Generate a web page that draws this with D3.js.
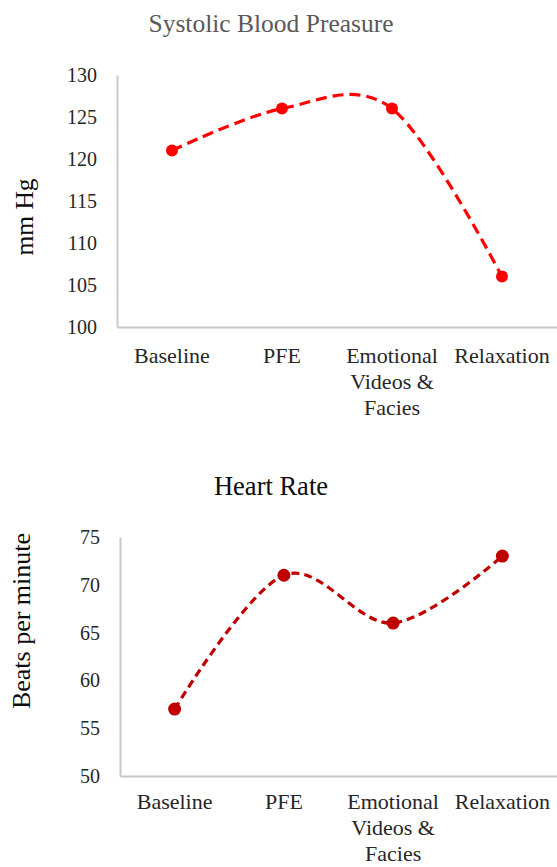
<!DOCTYPE html>
<html><head><meta charset="utf-8">
<script src="https://cdn.jsdelivr.net/npm/d3@7"></script>
<style>body{margin:0;background:#fff}svg{display:block}</style>
</head><body><svg id="c" width="557" height="867"></svg>
<script>
const categories = ["Baseline", "PFE", "Emotional\nVideos &\nFacies", "Relaxation"];
const systolicValues = [121, 126, 126, 106];
const systolicTicks = [100, 105, 110, 115, 120, 125, 130];
const heartRateValues = [57, 71, 66, 73];
const heartRateTicks = [50, 55, 60, 65, 70, 75];

const FONT = "'Liberation Serif', 'Times New Roman', serif";
const svg = d3.select("#c");

function panel(cfg) {
  const g = svg.append("g").style("font-family", FONT);
  const x = d3.scaleBand().domain(categories).range([cfg.left, cfg.right]);
  const y = d3.scaleLinear().domain([cfg.ticks[0], cfg.ticks[cfg.ticks.length - 1]]).range([cfg.bottom, cfg.top]);

  g.append("text").attr("x", cfg.titleX).attr("y", cfg.titleY).attr("text-anchor", "middle")
    .style("font-family", FONT).attr("font-size", cfg.titleSize).attr("fill", cfg.titleColor).text(cfg.title);

  const ya = g.append("g").attr("transform", `translate(${cfg.left},0)`)
    .call(d3.axisLeft(y).tickValues(cfg.ticks).tickSize(0).tickPadding(cfg.tickPad));
  ya.style("font-family", FONT);
  ya.select(".domain").attr("stroke", "#c8c8c8").attr("stroke-width", 2);
  ya.selectAll("text").attr("font-size", 20).attr("fill", "#262626").style("font-family", FONT);

  const xa = g.append("g").attr("transform", `translate(0,${cfg.bottom})`)
    .call(d3.axisBottom(x).tickSize(0).tickFormat(""));
  xa.select(".domain").attr("stroke", "#c8c8c8").attr("stroke-width", 2);

  categories.forEach(c => {
    const lines = c.split("\n");
    const t = g.append("text").attr("text-anchor", "middle").attr("font-size", 22)
      .style("font-family", FONT).attr("fill", "#262626");
    lines.forEach((l, i) => {
      t.append("tspan").attr("x", x(c) + x.bandwidth() / 2).attr("y", cfg.bottom + cfg.labelOff + i * cfg.lineH).text(l);
    });
  });

  g.append("text").attr("transform", `translate(${cfg.ylabelX},${cfg.ylabelY}) rotate(-90)`)
    .attr("text-anchor", "middle").style("font-family", FONT).attr("font-size", cfg.ylabelSize)
    .attr("fill", "#0d0d0d").text(cfg.ylabel);

  const pts = cfg.values.map((v, i) => [x(categories[i]) + x.bandwidth() / 2, y(v)]);
  const line = d3.line().curve(d3.curveCardinal.tension(0));
  g.append("path").attr("d", line(pts)).attr("fill", "none").attr("stroke", cfg.color)
    .attr("stroke-width", 3.2).attr("stroke-dasharray", cfg.dash);
  g.selectAll("circle.m").data(cfg.values).enter().append("circle")
    .attr("cx", (d, i) => x(categories[i]) + x.bandwidth() / 2).attr("cy", d => y(d))
    .attr("r", cfg.r).attr("fill", cfg.color);
}

panel({
  title: "Systolic Blood Preasure", titleSize: 25.5, titleX: 271, titleY: 32, titleColor: "#595959",
  left: 117, right: 557, top: 75, bottom: 327, ticks: systolicTicks, values: systolicValues,
  tickPad: 20, labelOff: 36, lineH: 26, ylabel: "mm Hg", ylabelSize: 25.5, ylabelX: 33, ylabelY: 217, color: "#ff0000", r: 6, dash: "11,6"
});
panel({
  title: "Heart Rate", titleSize: 26.5, titleX: 271, titleY: 495, titleColor: "#0d0d0d",
  left: 120, right: 557, top: 537, bottom: 776, ticks: heartRateTicks, values: heartRateValues,
  tickPad: 20, labelOff: 33, lineH: 26, ylabel: "Beats per minute", ylabelSize: 26, ylabelX: 30, ylabelY: 621, color: "#c00000", r: 6.5, dash: "8,5"
});
</script></body></html>
